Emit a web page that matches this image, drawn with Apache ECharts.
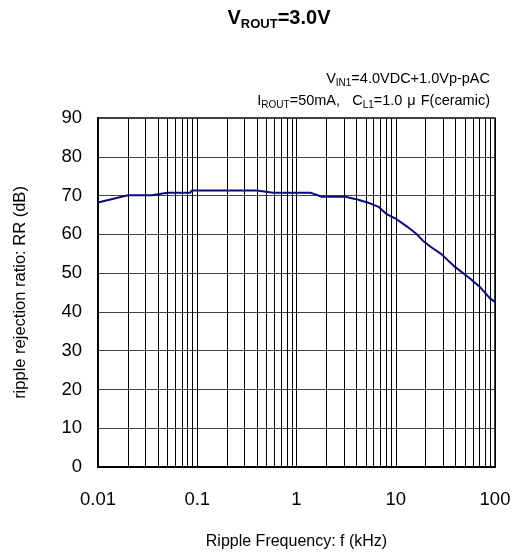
<!DOCTYPE html>
<html>
<head>
<meta charset="utf-8">
<script src="https://cdn.jsdelivr.net/npm/echarts@6/dist/echarts.min.js"></script>
<style>html,body{margin:0;padding:0;background:#fff;}#c{width:522px;height:557px;}</style>
</head>
<body>
<div id="c"></div>
<script>
// Data
var freqKHz = [0.01, 0.02, 0.035, 0.05, 0.085, 0.088, 0.4, 0.58, 1.4, 1.8, 3.1, 4.1, 5.5, 6.7, 8.1, 10.2, 13, 16.2, 18.9, 23, 28.8, 39.5, 56, 70, 89, 100];
var rrDb = [68.2, 70.1, 70.1, 70.7, 70.7, 71.3, 71.3, 70.7, 70.7, 69.7, 69.7, 69.0, 68.0, 67.1, 65.2, 63.9, 62.0, 60.1, 58.3, 56.6, 54.9, 51.6, 48.6, 46.5, 43.5, 42.6];
var xTickLabels = ['0.01', '0.1', '1', '10', '100'];
var minorGridX = [];
[0.01, 0.1, 1, 10].forEach(function (d) { for (var k = 2; k <= 9; k++) minorGridX.push(+(d * k).toPrecision(3)); });

var FONT = 'Liberation Sans, Arial, sans-serif';
var chart = echarts.init(document.getElementById('c'), null, {renderer: 'canvas'});
chart.setOption({
  animation: false,
  backgroundColor: '#fff',
  graphic: [
    {
      type: 'text', x: 279, y: 8,
      style: {
        text: '{b|V}{s|ROUT}{b|=3.0V}',
        align: 'center',
        rich: {
          b: {fontFamily: FONT, fontWeight: 'bold', fontSize: 20, fill: '#000', padding: [0, 0, 3, 0], verticalAlign: 'bottom'},
          s: {fontFamily: FONT, fontWeight: 'bold', fontSize: 13, fill: '#000', verticalAlign: 'bottom'}
        }
      }
    },
    {
      type: 'text', right: 32, top: 71,
      style: {
        text: '{n|V}{s|IN1}{n|=4.0VDC+1.0Vp-pAC}',
        align: 'right',
        rich: {
          n: {fontFamily: FONT, fontSize: 14.5, fill: '#000', padding: [0, 0, 2, 0], verticalAlign: 'bottom'},
          s: {fontFamily: FONT, fontSize: 10, fill: '#000', verticalAlign: 'bottom'}
        }
      }
    },
    {
      type: 'text', right: 32, top: 93,
      style: {
        text: '{n|I}{s|ROUT}{n|=50mA,   C}{s|L1}{n|=1.0}{m|μ}{n|F(ceramic)}',
        align: 'right',
        rich: {
          n: {fontFamily: FONT, fontSize: 14.5, fill: '#000', padding: [0, 0, 2, 0], verticalAlign: 'bottom'},
          m: {fontFamily: FONT, fontSize: 14.5, fill: '#000', padding: [0, 5, 2, 5], verticalAlign: 'bottom'},
          s: {fontFamily: FONT, fontSize: 10, fill: '#000', verticalAlign: 'bottom'}
        }
      }
    }
  ],
  grid: {left: 98, right: 27, top: 118, bottom: 90, show: true, borderColor: '#000', borderWidth: 1.5, backgroundColor: 'transparent'},
  xAxis: {
    type: 'log', logBase: 10, min: 0.01, max: 100,
    name: 'Ripple Frequency: f (kHz)', nameLocation: 'middle', nameGap: 67,
    nameTextStyle: {fontFamily: FONT, fontSize: 16, color: '#000'},
    axisLine: {show: true, onZero: false, lineStyle: {color: '#000', width: 2}},
    axisTick: {show: false},
    axisLabel: {
      fontFamily: FONT, fontSize: 18.5, color: '#000', margin: 23,
      formatter: function (v) {
        var i = Math.round(Math.log10(v)) + 2;
        return xTickLabels[i] !== undefined ? xTickLabels[i] : '';
      }
    },
    splitLine: {show: true, lineStyle: {color: '#000', width: 1}}
  },
  yAxis: {
    type: 'value', min: 0, max: 90, interval: 10,
    name: 'ripple rejection ratio: RR (dB)', nameLocation: 'middle', nameGap: 69, nameRotate: 90,
    nameTextStyle: {fontFamily: FONT, fontSize: 16.5, color: '#000'},
    axisLine: {show: true, lineStyle: {color: '#000', width: 2}},
    axisTick: {show: false},
    axisLabel: {fontFamily: FONT, fontSize: 18.5, color: '#000', margin: 16},
    splitLine: {show: true, lineStyle: {color: '#444', width: 1}}
  },
  series: [
    {
      type: 'line',
      data: [],
      silent: true,
      markLine: {
        silent: true, symbol: 'none', label: {show: false},
        lineStyle: {color: '#000', width: 1, type: 'solid'},
        emphasis: {disabled: true},
        data: minorGridX.map(function (x) { return {xAxis: x}; })
      }
    },
    {
      type: 'line',
      data: freqKHz.map(function (f, i) { return [f, rrDb[i]]; }),
      showSymbol: false,
      smooth: false,
      lineStyle: {color: '#0a0a80', width: 2},
      z: 5
    }
  ]
});
</script>
</body>
</html>
